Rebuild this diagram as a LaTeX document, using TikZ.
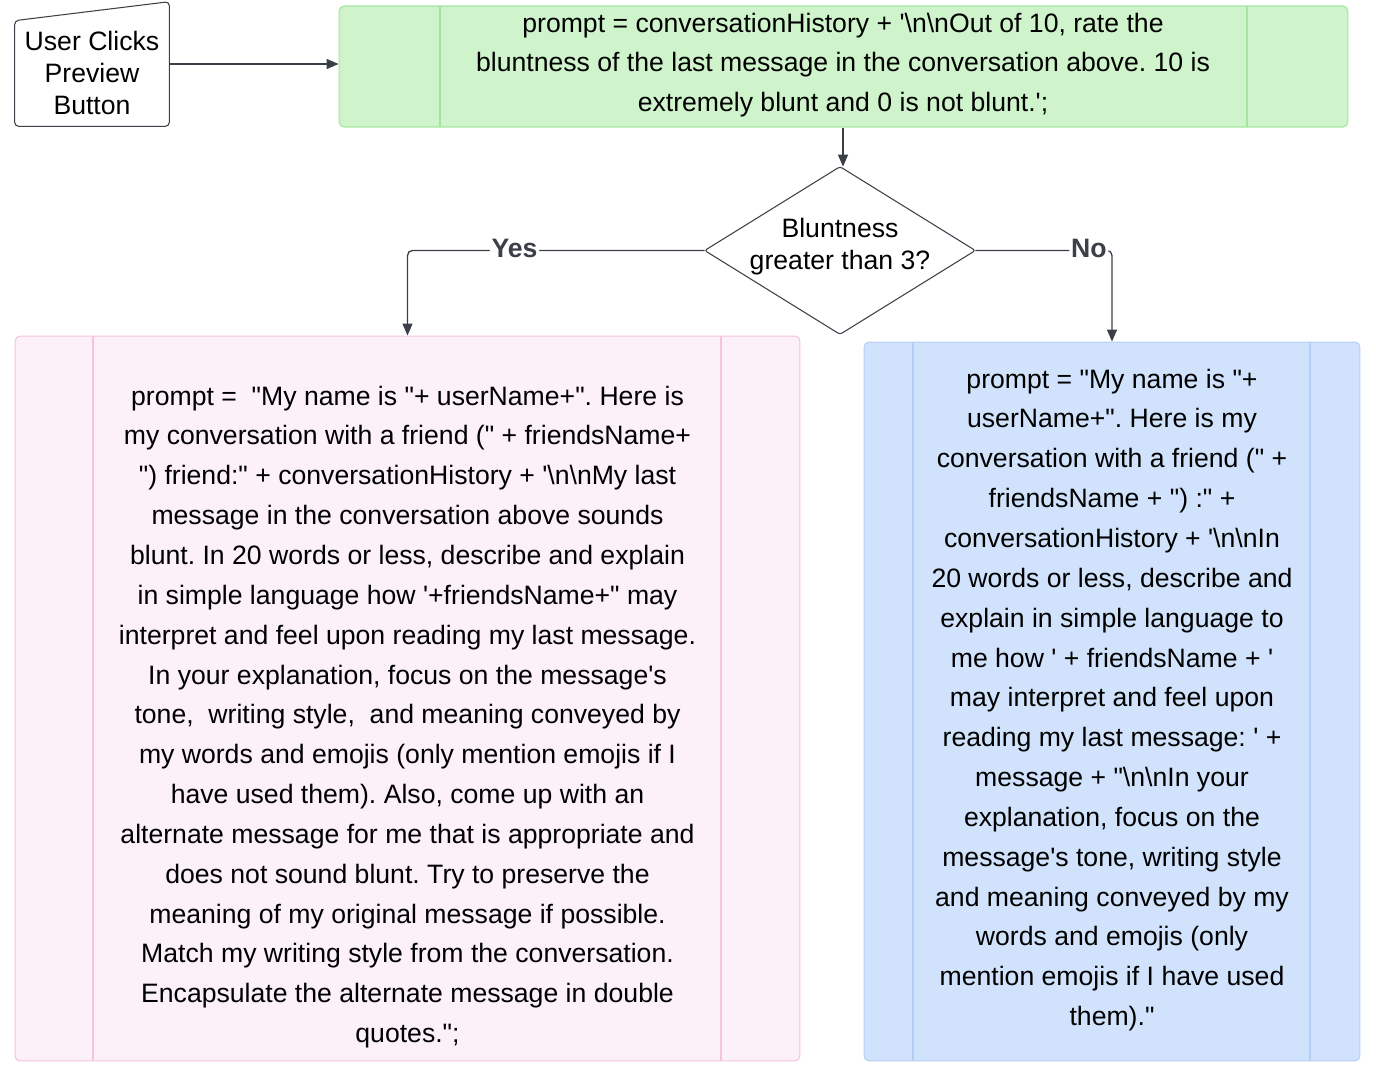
\documentclass[tikz,border=0pt]{standalone}
\usepackage{fontspec}
\setmainfont{Liberation Sans}[Ligatures=TeXOff]
\usepackage{tikz}
\usetikzlibrary{calc,arrows.meta}
\definecolor{greenfill}{RGB}{207,244,204}
\definecolor{greenline}{RGB}{163,230,160}
\definecolor{pinkfill}{RGB}{252,240,249}
\definecolor{pinkline}{RGB}{245,196,220}
\definecolor{bluefill}{RGB}{209,227,252}
\definecolor{blueline}{RGB}{180,207,245}
\definecolor{linegray}{RGB}{59,64,72}
\newcommand{\bsn}{\textbackslash n}
\frenchspacing

\begin{document}
\begin{tikzpicture}[x=0.02cm,y=-0.02cm,
    txt/.style={font=\fontsize{15.15}{22.68}\selectfont,align=center,inner sep=0},
    smalltxt/.style={font=\fontsize{15.15}{18.1}\selectfont,align=center,inner sep=0},
    box/.style={draw,rounded corners=0.1cm,line width=0.6pt,inner sep=0},
    arr/.style={draw=linegray,line width=0.75pt,-{Triangle[length=0.24cm,width=0.2cm]}},
    lbl/.style={font=\fontsize{15.15}{18}\selectfont\bfseries,text=linegray,fill=white,inner sep=1pt,yshift=0.04cm}]
                      \useasboundingbox (0,0) rectangle (1376,1072);
                      % start
                      \node[minimum width=3.08cm,minimum height=2.48cm,inner sep=0](click)at(92,64){};
                      \draw[linegray,line width=0.6pt,rounded corners=0.08cm](click.south west)--($(click.north west)+(0,19)$)--(click.north east)--(click.south east)--cycle;
                      \node[smalltxt](clicktxt)at(92,73){User Clicks\\Preview\\Button};
                      % bluntness prompt
                      \node[box,draw=greenline,fill=greenfill,minimum width=20.18cm,minimum height=2.42cm](prompt)at(843.5,66.5){};
                      \foreach \x in {440,1247} \draw[greenline,line width=1pt](\x,6)--(\x,127);
                      \node[txt](prompttxt)at(843,65){prompt = conversationHistory + '\bsn\bsn Out of 10, rate the\\bluntness of the last message in the conversation above. 10 is\\extremely blunt and 0 is not blunt.';};
                      % decision
                      \node[minimum width=5.4cm,minimum height=3.34cm,inner sep=0](dec)at(840,250.5){};
                      \draw[linegray,line width=0.6pt,fill=white,rounded corners=0.05cm](dec.west)--(dec.north)--(dec.east)--(dec.south)--cycle;
                      \node[smalltxt](dectxt)at(840,247){Bluntness\\greater than 3?};
                      % yes branch
                      \node[box,draw=pinkline,fill=pinkfill,minimum width=15.7cm,minimum height=14.5cm](yesbox)at(407.5,698.5){};
                      \foreach \x in {93,721} \draw[pinkline,line width=1pt](\x,336)--(\x,1061);
                      \node[txt](yestxt)at(407.5,717){prompt =\ \ "My name is "+ userName+". Here is\\my conversation with a friend (" + friendsName+\\") friend:" + conversationHistory + '\bsn\bsn My last\\message in the conversation above sounds\\blunt. In 20 words or less, describe and explain\\in simple language how '+friendsName+" may\\interpret and feel upon reading my last message.\\In your explanation, focus on the message's\\tone,\ \ writing style,\ \ and meaning conveyed by\\my words and emojis (only mention emojis if I\\have used them). Also, come up with an\\alternate message for me that is appropriate and\\does not sound blunt. Try to preserve the\\meaning of my original message if possible.\\Match my writing style from the conversation.\\Encapsulate the alternate message in double\\quotes.";};
                      % no branch
                      \node[box,draw=blueline,fill=bluefill,minimum width=9.92cm,minimum height=14.38cm](nobox)at(1112,701.5){};
                      \foreach \x in {913,1310} \draw[blueline,line width=1pt](\x,342)--(\x,1061);
                      \node[txt](notxt)at(1112,700){prompt = "My name is "+\\userName+". Here is my\\conversation with a friend (" +\\friendsName + ") :" +\\conversationHistory + '\bsn\bsn In\\20 words or less, describe and\\explain in simple language to\\me how ' + friendsName + '\\may interpret and feel upon\\reading my last message: ' +\\message + "\bsn\bsn In your\\explanation, focus on the\\message's tone, writing style\\and meaning conveyed by my\\words and emojis (only\\mention emojis if I have used\\them)."};
                      % connectors
                      \draw[arr](click.east)--(click.east-|prompt.west);
                      \draw[arr](prompt.south-|843,0)--(dec.north-|843,0);
                      \draw[arr,rounded corners=0.1cm](dec.west)-|node[lbl,pos=0.32](yeslbl){Yes}(yesbox.north);
                      \draw[arr,rounded corners=0.1cm](dec.east)-|node[lbl,pos=0.415](nolbl){No}(nobox.north);
                  \end{tikzpicture}
\end{document}
